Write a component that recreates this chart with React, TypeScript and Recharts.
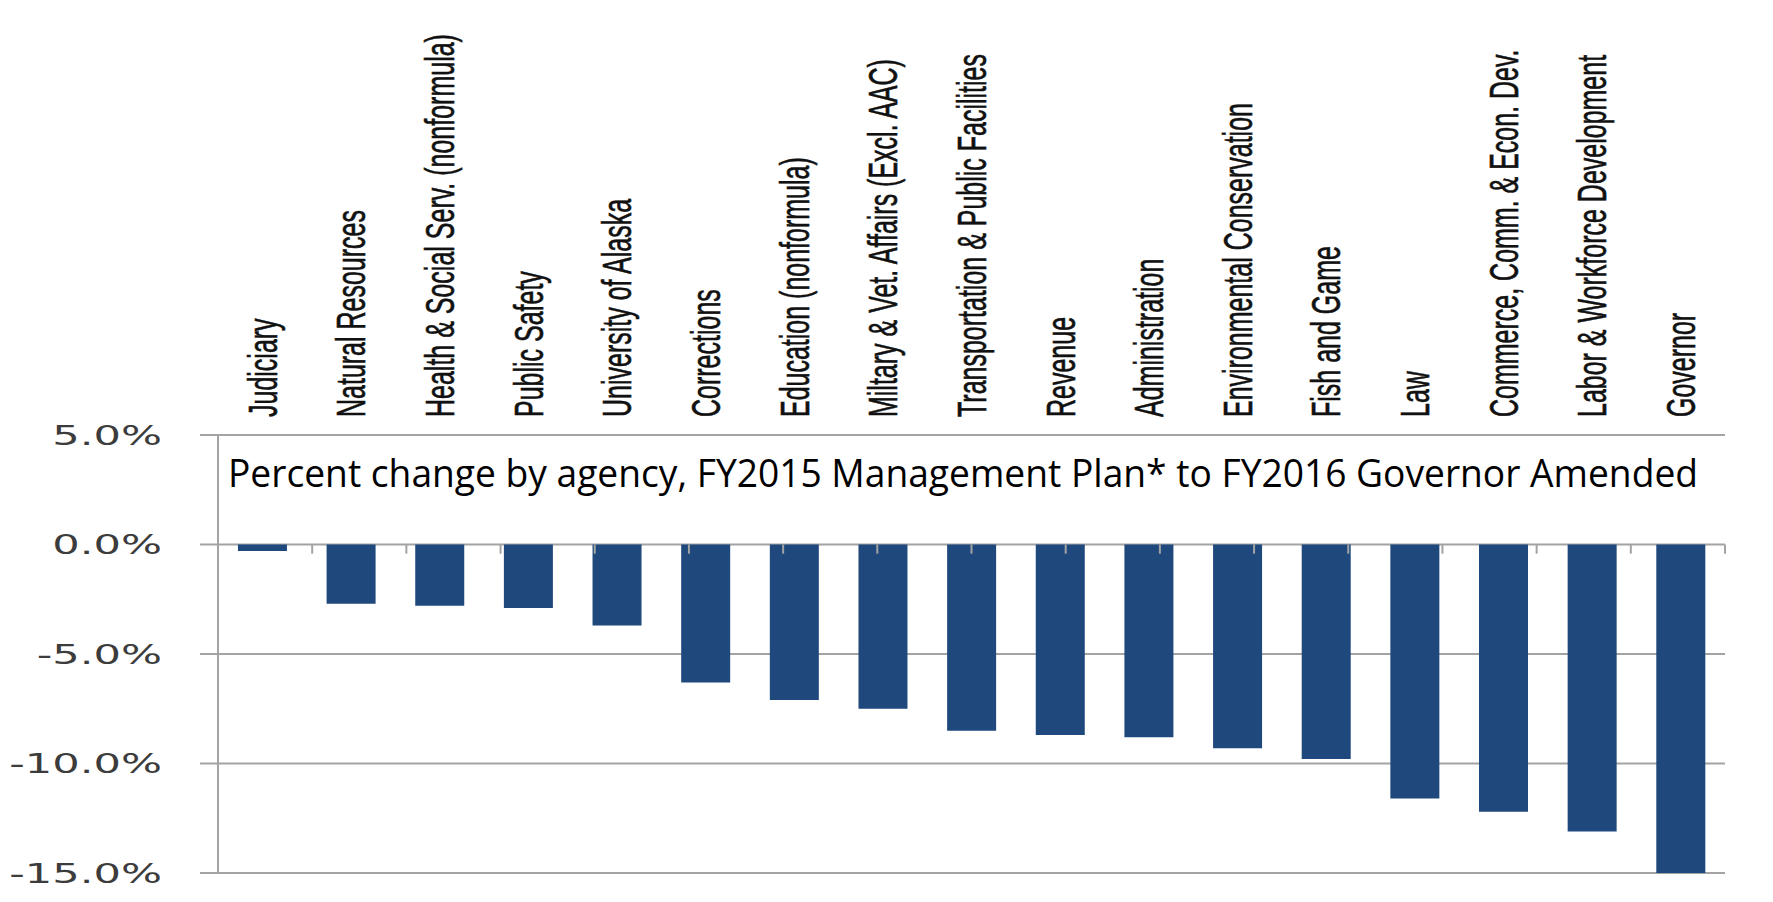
import { BarChart, Bar, XAxis, YAxis, CartesianGrid, ReferenceLine } from 'recharts'

// agencies in the order shown, left to right
const agencies = [
  'Judiciary',
  'Natural Resources',
  'Health & Social Serv. (nonformula)',
  'Public Safety',
  'University of Alaska',
  'Corrections',
  'Education (nonformula)',
  'Miltary & Vet. Affairs (Excl. AAC)',
  'Transportation & Public Facilities',
  'Revenue',
  'Administration',
  'Environmental Conservation',
  'Fish and Game',
  'Law',
  'Commerce, Comm. & Econ. Dev.',
  'Labor & Workforce Development',
  'Governor',
]

// percent change, FY2015 Management Plan -> FY2016 Governor Amended
const pctChange = [-0.3, -2.7, -2.8, -2.9, -3.7, -6.3, -7.1, -7.5, -8.5, -8.7, -8.8, -9.3, -9.8, -11.6, -12.2, -13.1, -15.0]

const yTicks = [5, 0, -5, -10, -15]

const chartTitle = 'Percent change by agency, FY2015 Management Plan* to FY2016 Governor Amended'

const chartData = agencies.map((name, i) => ({ name, value: pctChange[i] }))
// band boundaries on the zero line get small tick marks
const bandEdges = agencies.map((_, i) => i + 1)

const W = 1773
const H = 902
const BAR_BLUE = '#1f497d'
const GRID = '#a3a3a3'
const STRETCH = 1.6 // the source picture is stretched horizontally

function AgencyTick(props: { x?: number; y?: number; payload?: { value: string } }) {
  const { x = 0, y = 0, payload } = props
  return (
    <g transform={`translate(${x},${y}) scale(${STRETCH},1) rotate(-90)`}>
      <text
        x={0}
        y={0}
        dy="0.36em"
        textAnchor="start"
        fill="#111"
        stroke="#111"
        strokeWidth={0.4}
        fontSize={25}
        fontFamily="'Liberation Sans', Arial, sans-serif"
      >
        {payload?.value}
      </text>
    </g>
  )
}

function PercentTick(props: { x?: number; y?: number; payload?: { value: number } }) {
  const { x = 0, y = 0, payload } = props
  return (
    <g transform={`translate(${x},${y}) scale(${STRETCH},1)`}>
      <text x={0} y={0} dy="0.36em" textAnchor="end" fill="#3c3c3c" fontSize={27} fontFamily="'DejaVu Sans', sans-serif">
        {`${Number(payload?.value ?? 0).toFixed(1)}%`}
      </text>
    </g>
  )
}

export default function App() {
  return (
    <div style={{ position: 'absolute', left: 0, top: 0, width: W, height: H, background: '#fff' }}>
      <BarChart
        width={W}
        height={H}
        data={chartData}
        margin={{ top: 0, right: 48, bottom: 29, left: 0 }}
        barCategoryGap="22.5%"
      >
        <CartesianGrid vertical={false} stroke={GRID} strokeWidth={2} />
        <XAxis
          dataKey="name"
          orientation="top"
          height={435}
          interval={0}
          tick={<AgencyTick />}
          tickLine={false}
          axisLine={false}
          tickSize={0}
          tickMargin={18}
        />
        <XAxis xAxisId="edges" type="number" domain={[0, agencies.length]} allowDataOverflow hide />
        <YAxis
          width={218}
          domain={[-15, 5]}
          ticks={yTicks}
          interval={0}
          allowDataOverflow
          tick={<PercentTick />}
          tickSize={18}
          tickMargin={38}
          tickLine={{ stroke: GRID, strokeWidth: 2 }}
          axisLine={{ stroke: GRID, strokeWidth: 2 }}
        />
        {bandEdges.map((e) => (
          <ReferenceLine
            key={e}
            xAxisId="edges"
            segment={[
              { x: e, y: 0 },
              { x: e, y: -0.42 },
            ]}
            stroke={GRID}
            strokeWidth={2}
            ifOverflow="visible"
          />
        ))}
        <Bar dataKey="value" fill={BAR_BLUE} isAnimationActive={false} />
      </BarChart>
      <svg width={W} height={H} style={{ position: 'absolute', left: 0, top: 0, pointerEvents: 'none' }}>
        <text
          x={228}
          y={487}
          fontSize={38}
          fontFamily="'Open Sans', 'Noto Sans', sans-serif"
          fill="#000"
          textLength={1470}
          lengthAdjust="spacingAndGlyphs"
        >
          {chartTitle}
        </text>
      </svg>
    </div>
  )
}
